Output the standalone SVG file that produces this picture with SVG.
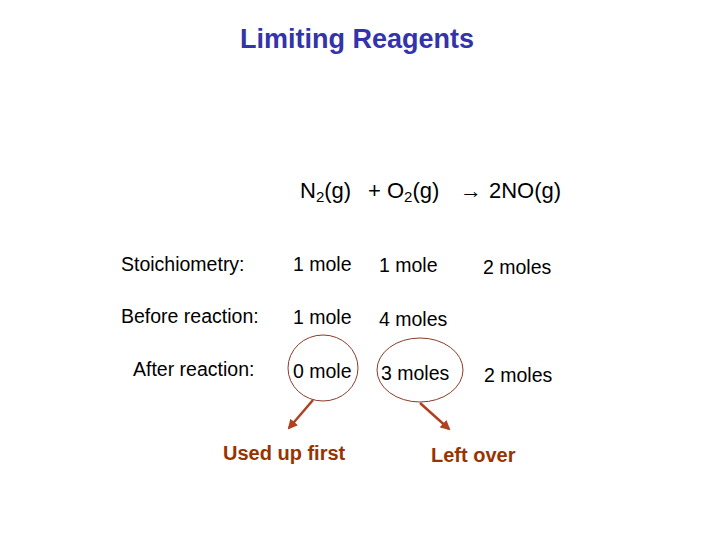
<svg xmlns="http://www.w3.org/2000/svg" width="720" height="540" viewBox="0 0 720 540">
<style>
text{font-family:"Liberation Sans",Arial,sans-serif;font-size:19.5px;fill:#000}
.t{font-size:27px;font-weight:bold;fill:#3333aa}
.r{font-weight:bold;fill:#993300;font-size:20px}
.c{fill:none;stroke:#8b3a2a;stroke-width:1}
.a{stroke:#b04020;stroke-width:2.5;marker-end:url(#ah)}
.e{font-size:22px}
</style>
<defs><marker id="ah" viewBox="0 0 10 10" refX="8" refY="5" markerWidth="4" markerHeight="4" orient="auto"><path d="M0,0L10,5L0,10z" fill="#b04020"/></marker></defs>
<rect width="720" height="540" fill="#fff"/>
<text class="t" x="357" y="48" text-anchor="middle">Limiting Reagents</text>
<g id="eq">
<text class="e" x="300" y="198">N<tspan font-size="15" dy="4">2</tspan><tspan dy="-4">(g)</tspan></text>
<text class="e" x="368" y="198">+ O<tspan font-size="15" dy="4">2</tspan><tspan dy="-4">(g)</tspan></text>
<text class="e" x="460" y="198" font-size="24">→</text>
<text class="e" x="489" y="198">2NO(g)</text>
</g>
<g id="rows">
<text x="121" y="271">Stoichiometry:</text>
<text x="293" y="271">1 mole</text><text x="379" y="272">1 mole</text><text x="483" y="274">2 moles</text>
<text x="121" y="323">Before reaction:</text>
<text x="293" y="324">1 mole</text><text x="379" y="326">4 moles</text>
<text x="133" y="376">After reaction:</text>
<text x="293" y="378">0 mole</text><text x="381" y="380">3 moles</text><text x="484" y="382">2 moles</text>
</g>
<g id="circles"><ellipse class="c" cx="323" cy="368" rx="35" ry="33"/><ellipse class="c" cx="420" cy="370" rx="43" ry="32"/></g>
<g id="connectors"><line class="a" x1="313" y1="400" x2="289" y2="428"/><line class="a" x1="420" y1="403" x2="449" y2="429"/></g>
<text class="r" x="223" y="460">Used up first</text>
<text class="r" x="431" y="462">Left over</text>
</svg>
